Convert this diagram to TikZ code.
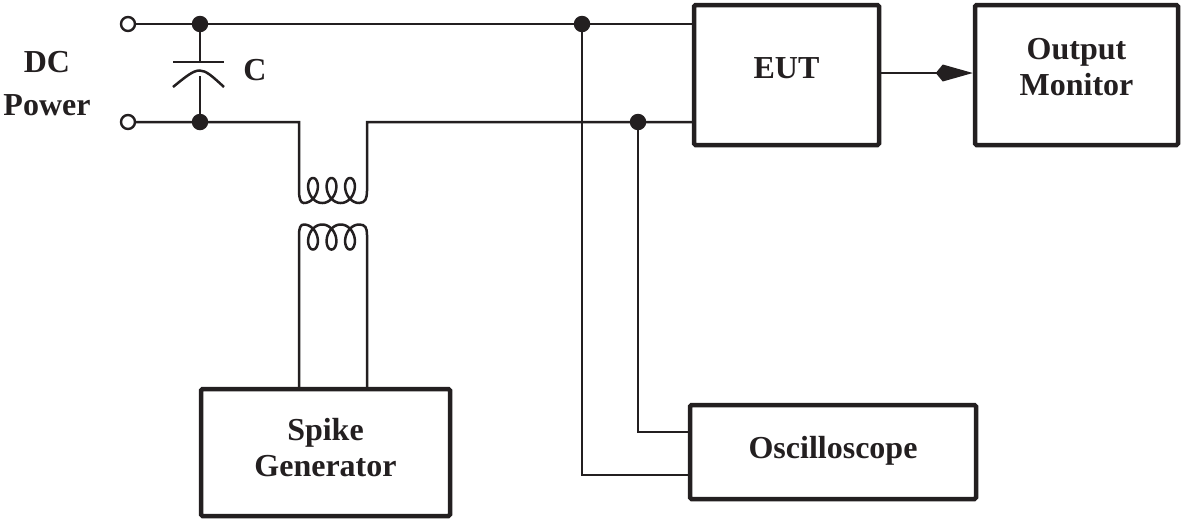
\documentclass[tikz,border=0pt]{standalone}
\usepackage{fontspec}
\setmainfont{Liberation Serif}
\usetikzlibrary{arrows.meta}
\definecolor{ink}{RGB}{35,31,32}
\begin{document}
\begin{tikzpicture}[x=1pt,y=-1pt,color=ink,
  wire/.style={line width=2.5pt},
  box/.style={draw,line width=4.5pt,rounded corners=1.5pt,inner sep=0pt},
  lbl/.style={font=\fontsize{32}{36}\selectfont\bfseries,align=center,inner sep=0pt},
  dot/.style={circle,fill=ink,inner sep=0pt,minimum size=16.5pt},
  term/.style={circle,draw=ink,line width=2.4pt,fill=white,inner sep=0pt,minimum size=14pt}]
\useasboundingbox (0,0) rectangle (1183,523);

% boxes
\node[box,minimum width=185pt,minimum height=140pt] (eut) at (786.5,75) {};
\node[box,minimum width=203pt,minimum height=140pt] (mon) at (1076.5,75) {};
\node[box,minimum width=249pt,minimum height=127pt] (spk) at (325.5,452.5) {};
\node[box,minimum width=286pt,minimum height=94pt] (osc) at (833,452) {};

% labels
\node[lbl] (eutt) at (786.5,68) {EUT};
\node[lbl] (mont) at (1076.5,67) {Output\\Monitor};
\node[lbl] (spkt) at (325.5,447.5) {Spike\\Generator};
\node[lbl] (osct) at (833,451) {Oscilloscope};
\node[lbl,font=\fontsize{32}{43}\selectfont\bfseries] (dc) at (47,83.5) {DC\\Power};
\node[lbl] (clbl) at (255,70) {C};

% junction points
\coordinate (t1) at (128,24);
\coordinate (t2) at (128,122);
\coordinate (d1) at (200,24);
\coordinate (d2) at (200,122);
\coordinate (d3) at (582,24);
\coordinate (d4) at (638,122);
\coordinate (pl) at (299,122);
\coordinate (pr) at (367,122);
\coordinate (ay) at (0,73);

% top wire
\draw[wire] (t1) -- (eut.west |- t1);
% bottom wire with primary coil
\draw[wire] (t2) -- (pl) -- (299,191) .. controls (299,198) and (300.5,203) .. (303.75,203)
  -- plot[domain=0:18.8496,samples=300,variable=\t] ({303.75+2.944*\t+9*sin(\t r)},{190.5+12.5*cos(\t r)})
  .. controls (365.5,203) and (367,198) .. (367,191) -- (pr) -- (eut.west |- pr);
% secondary coil to spike generator
\draw[wire] (spk.north -| pl) -- (299,235) .. controls (299,228) and (300.5,224.5) .. (303.75,224.5)
  -- plot[domain=0:18.8496,samples=300,variable=\t] ({303.75+2.944*\t+9*sin(\t r)},{237-12.5*cos(\t r)})
  .. controls (365.5,224.5) and (367,228) .. (367,235) -- (spk.north -| pr);

% capacitor
\draw[wire] (d1) -- (200,62);
\draw[wire] (173,62) -- (224,62);
\draw[wire] (173,87) .. controls (200,65) .. (224,87);
\draw[wire] (200,76) -- (d2);

% oscilloscope leads
\draw[wire] (d4) -- (638,432) -- (osc.west |- 0,432);
\draw[wire] (d3) -- (582,475) -- (osc.west |- 0,475);

% output arrow
\draw[wire,-{Kite[length=37pt,width=17pt,inset=7pt]}] (eut.east |- ay) -- (mon.west |- ay);

% dots and terminals
\node[term] (n1) at (t1) {};
\node[term] (n2) at (t2) {};
\node[dot] (m1) at (d1) {};
\node[dot] (m2) at (d2) {};
\node[dot] (m3) at (d3) {};
\node[dot] (m4) at (d4) {};
\end{tikzpicture}
\end{document}
